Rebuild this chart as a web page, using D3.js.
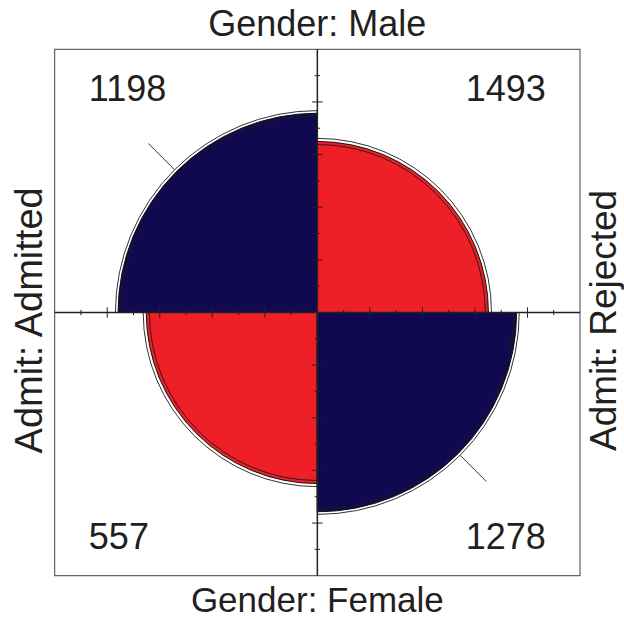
<!DOCTYPE html>
<html>
<head>
<meta charset="utf-8">
<script src="https://cdn.jsdelivr.net/npm/d3@7"></script>
<style>
  html, body { margin: 0; padding: 0; background: #fff; }
  text { font-family: "Liberation Sans", Arial, sans-serif; fill: #231f20; }
</style>
</head>
<body>
<div id="chart"></div>
<script>
// UCB admissions, aggregated over departments
const genders = ["Male", "Female"];
const admits = ["Admitted", "Rejected"];
// counts[gender][admit]
const counts = [[1198, 1493], [557, 1278]];
const confLevel = 0.95;

const width = 624, height = 619;
const colorDiag = "#10094f", colorOff = "#ee1f26";

// standardize to equal margins (keeps the odds ratio), like R's fourfold()
function stdize(or) {
  const s = Math.sqrt(or);
  const u = s / (1 + s);
  return { diag: u, off: 1 - u };
}
const a = counts[0][0], b = counts[0][1], c = counts[1][0], d = counts[1][1];
const or = (a * d) / (b * c);
const se = Math.sqrt(1 / a + 1 / b + 1 / c + 1 / d);
const z = 1.959964; // qnorm(0.975)
const fit = stdize(or);
const fitLo = stdize(Math.exp(Math.log(or) - z * se));
const fitHi = stdize(Math.exp(Math.log(or) + z * se));

const x = d3.scaleLinear().domain([-1, 1]).range([54.7, 580]);
const y = d3.scaleLinear().domain([-1, 1]).range([575.7, 49.3]);
const unit = x(1) - x(0);
const cx = x(0), cy = y(0);

// quadrants: angles in d3.arc convention (0 = up, clockwise)
const quads = [
  { g: 0, a: 0, start: -Math.PI / 2, end: 0, diag: true },          // TL Male/Admitted
  { g: 0, a: 1, start: 0, end: Math.PI / 2, diag: false },          // TR Male/Rejected
  { g: 1, a: 1, start: Math.PI / 2, end: Math.PI, diag: true },     // BR Female/Rejected
  { g: 1, a: 0, start: Math.PI, end: 3 * Math.PI / 2, diag: false } // BL Female/Admitted
];

const svg = d3.select("#chart").append("svg")
  .attr("width", width).attr("height", height);

// frame
svg.append("rect")
  .attr("x", x(-1)).attr("y", y(1))
  .attr("width", x(1) - x(-1)).attr("height", y(-1) - y(1))
  .attr("fill", "none").attr("stroke", "#444").attr("stroke-width", 1);

const g = svg.append("g").attr("transform", `translate(${cx},${cy})`);
const rad = (f, q) => Math.sqrt(q.diag ? f.diag : f.off) * unit;
const sector = (r, q) => d3.arc()({ innerRadius: 0, outerRadius: r, startAngle: q.start, endAngle: q.end });

// filled quarter circles
g.selectAll("path.pie")
  .data(quads)
  .enter().append("path")
  .attr("class", "pie")
  .attr("d", q => sector(rad(fit, q), q))
  .attr("fill", q => q.diag ? colorDiag : colorOff)
  .attr("stroke", "#111").attr("stroke-width", 1);

// confidence rings
[fitLo, fitHi].forEach(f => {
  g.selectAll(null)
    .data(quads)
    .enter().append("path")
    .attr("d", q => sector(rad(f, q), q))
    .attr("fill", "none")
    .attr("stroke", "#1a1a1a").attr("stroke-width", 0.9);
});

// marker lines on the diagonal quadrants
g.selectAll("line.mark")
  .data(quads.filter(q => q.diag))
  .enter().append("line")
  .attr("class", "mark")
  .each(function (q) {
    const ang = (q.start + q.end) / 2;
    const r0 = rad(fitHi, q), r1 = 0.91 * unit;
    d3.select(this)
      .attr("x1", Math.sin(ang) * r0).attr("y1", -Math.cos(ang) * r0)
      .attr("x2", Math.sin(ang) * r1).attr("y2", -Math.cos(ang) * r1);
  })
  .attr("stroke", "#333").attr("stroke-width", 1);

// central axes with ticks
svg.append("line")
  .attr("x1", x(-1)).attr("x2", x(1)).attr("y1", cy).attr("y2", cy)
  .attr("stroke", "#222").attr("stroke-width", 1.5);
svg.append("line")
  .attr("x1", cx).attr("x2", cx).attr("y1", y(-1)).attr("y2", y(1))
  .attr("stroke", "#222").attr("stroke-width", 1.5);

const bigTicks = d3.range(-0.8, 0.81, 0.2);
const smallTicks = d3.range(-0.9, 0.91, 0.2);
const ticks = bigTicks.map(t => ({ t, h: 0.02 })).concat(smallTicks.map(t => ({ t, h: 0.01 })));
svg.selectAll("line.tx")
  .data(ticks).enter().append("line").attr("class", "tx")
  .attr("x1", d => x(d.t)).attr("x2", d => x(d.t))
  .attr("y1", d => y(d.h)).attr("y2", d => y(-d.h))
  .attr("stroke", "#222").attr("stroke-width", 1);
svg.selectAll("line.ty")
  .data(ticks).enter().append("line").attr("class", "ty")
  .attr("y1", d => y(d.t)).attr("y2", d => y(d.t))
  .attr("x1", d => x(-d.h)).attr("x2", d => x(d.h))
  .attr("stroke", "#222").attr("stroke-width", 1);

// cell counts
svg.selectAll("text.count")
  .data(quads)
  .enter().append("text")
  .attr("class", "count")
  .attr("x", q => q.a === 0 ? x(-0.87) : x(0.87))
  .attr("y", q => q.g === 0 ? y(0.85) : y(-0.85))
  .attr("dy", "0.35em")
  .attr("text-anchor", q => q.a === 0 ? "start" : "end")
  .style("font-size", "36px")
  .text(q => counts[q.g][q.a]);

// margin labels
svg.append("text")
  .attr("x", cx).attr("y", y(1.1)).attr("dy", "0.35em")
  .attr("text-anchor", "middle").style("font-size", "36px")
  .text(`Gender: ${genders[0]}`);
svg.append("text")
  .attr("x", cx).attr("y", 611.5)
  .attr("text-anchor", "middle").style("font-size", "35px")
  .text(`Gender: ${genders[1]}`);
svg.append("text")
  .attr("transform", `translate(${x(-1.1)},${y(-0.03)}) rotate(-90)`)
  .attr("dy", "0.35em")
  .attr("text-anchor", "middle").style("font-size", "38px")
  .text(`Admit: ${admits[0]}`);
svg.append("text")
  .attr("transform", `translate(616,${y(-0.03)}) rotate(-90)`)
  .attr("text-anchor", "middle").style("font-size", "37px")
  .text(`Admit: ${admits[1]}`);
</script>
</body>
</html>
